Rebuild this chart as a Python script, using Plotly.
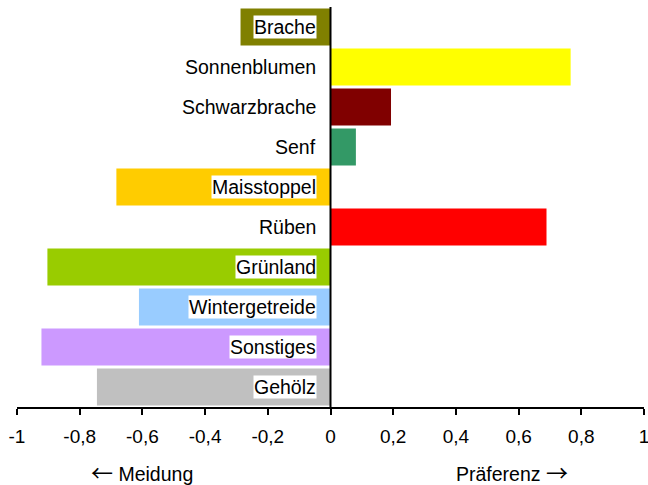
import plotly.graph_objects as go

categories = ["Brache", "Sonnenblumen", "Schwarzbrache", "Senf", "Maisstoppel",
              "Rüben", "Grünland", "Wintergetreide", "Sonstiges", "Gehölz"]
values = [-0.287, 0.766, 0.193, 0.081, -0.683, 0.689, -0.903, -0.611, -0.922, -0.745]
colors = ["#808000", "#FFFF00", "#800000", "#339966", "#FFCC00",
          "#FF0000", "#99CC00", "#99CCFF", "#CC99FF", "#C0C0C0"]
tick_vals = [-1, -0.8, -0.6, -0.4, -0.2, 0, 0.2, 0.4, 0.6, 0.8, 1]
tick_text = ["-1", "-0,8", "-0,6", "-0,4", "-0,2", "0", "0,2", "0,4", "0,6", "0,8", "1"]

FONT = "Liberation Sans, Arial, sans-serif"
FS = 19.5
ARROW = '<span style="font-size:22px;font-family:Noto Sans CJK JP">{}</span>'

fig = go.Figure(go.Bar(
    y=categories, x=values, orientation="h",
    marker=dict(color=colors, line=dict(width=0)),
    hoverinfo="x+y",
))

for c in categories:
    fig.add_annotation(x=0, y=c, xref="x", yref="y", text=c, showarrow=False,
                       xanchor="right", yanchor="middle", xshift=-14,
                       bgcolor="white", borderpad=0,
                       font=dict(family=FONT, size=FS, color="black"))

fig.add_annotation(x=-0.602, y=-0.16, xref="x", yref="paper",
                   text=ARROW.format("←") + " Meidung",
                   showarrow=False, xanchor="center", yanchor="middle",
                   font=dict(family=FONT, size=FS, color="black"))
fig.add_annotation(x=0.578, y=-0.16, xref="x", yref="paper",
                   text="Präferenz " + ARROW.format("→"),
                   showarrow=False, xanchor="center", yanchor="middle",
                   font=dict(family=FONT, size=FS, color="black"))

fig.add_shape(type="line", x0=0, x1=0, y0=0, y1=1, xref="x", yref="paper",
              line=dict(color="black", width=2))

fig.update_layout(
    width=648, height=485,
    margin=dict(l=17, r=4, t=7, b=78, autoexpand=False),
    paper_bgcolor="white", plot_bgcolor="white",
    bargap=0.08, showlegend=False,
    font=dict(family=FONT, size=FS, color="black"),
    xaxis=dict(range=[-1, 1], tickvals=tick_vals, ticktext=tick_text,
               showgrid=False, zeroline=False, showline=True, linecolor="black",
               linewidth=2, ticks="outside", ticklen=6, tickwidth=2, tickcolor="black",
               ticklabeloverflow="allow", ticklabelstandoff=5,
               tickfont=dict(family=FONT, size=19, color="black"), automargin=False),
    yaxis=dict(autorange="reversed", showticklabels=False, showgrid=False,
               zeroline=False, showline=False, ticks=""),
)

fig.write_html("out.html", config={"displayModeBar": False},
               post_script="document.body.style.margin='0';")
